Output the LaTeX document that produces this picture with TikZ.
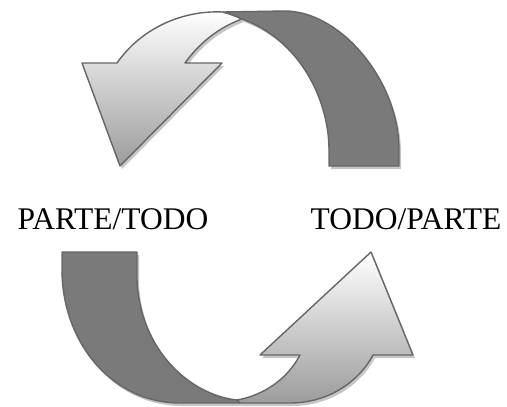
\documentclass[tikz,border=0pt]{standalone}
\usepackage{fontspec}
\setmainfont{Liberation Serif}
\definecolor{edgec}{HTML}{666666}
\definecolor{darkc}{HTML}{7A7A7A}
\definecolor{shadowc}{HTML}{C6C6C6}
\definecolor{lightend}{HTML}{9C9C9C}
\begin{document}
\begin{tikzpicture}[x=1pt,y=-1pt,
  outline/.style={draw=edgec,line width=1.4pt,line join=round},
  shadowpart/.style={fill=shadowc,xshift=2pt,yshift=-3pt},
  labeltext/.style={anchor=base,font=\fontsize{31.5}{38}\selectfont,inner sep=0pt}]
\useasboundingbox (0,0) rectangle (507,407);
\def\topdark{(399,166) -- (399,150) .. controls (399,80) and (340,11) .. (285,11) -- (223,12) .. controls (230,14) and (236,16) .. (242,19) .. controls (300,40) and (329,100) .. (329,150) -- (329,166) -- cycle}
\def\toplight{(223,12) .. controls (180,10) and (140,30) .. (117,63) -- (82,63) -- (120,166) -- (222,63) -- (185,63) .. controls (200,42) and (220,27) .. (242,19) .. controls (236,16) and (230,14) .. (223,12) -- cycle}
\def\botdark{(62,252) -- (137,252) -- (137,280) .. controls (140,350) and (190,395) .. (237,400) -- (240,403) -- (180,403) .. controls (110,403) and (62,340) .. (62,270) -- cycle}
\def\botlight{(237,400) .. controls (265,395) and (288,378) .. (300,355) -- (260,355) -- (371,252) -- (413,355) -- (373,355) .. controls (360,380) and (330,403) .. (290,403) -- (240,403) -- cycle}
% shadows
\fill[shadowpart] \topdark;
\fill[shadowpart] \toplight;
\fill[shadowpart] \botdark;
\fill[shadowpart] \botlight;
% shapes
\shade[top color=white,bottom color=lightend,outline] \toplight;
\fill[darkc,outline] \topdark;
\shade[top color=white,bottom color=lightend,outline] \botlight;
\fill[darkc,outline] \botdark;
% labels
\node[labeltext] (pt) at (113,229) {PARTE/TODO};
\node[labeltext] (tp) at (406,229) {TODO/PARTE};
\end{tikzpicture}
\end{document}
